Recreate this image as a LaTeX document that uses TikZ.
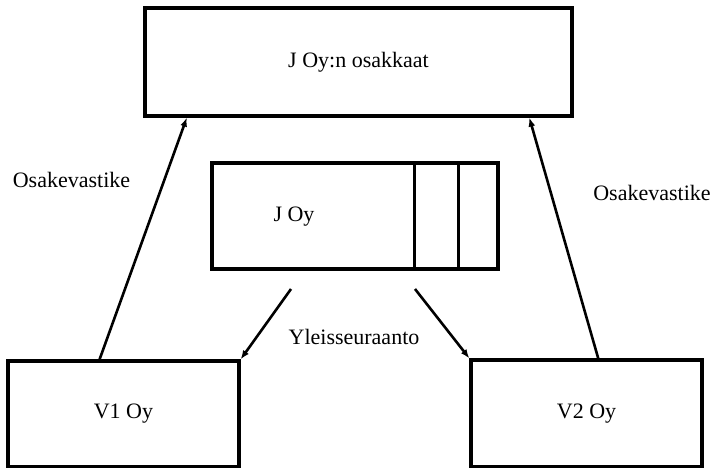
\documentclass[tikz,border=0pt]{standalone}
\usepackage{fontspec}
\setmainfont{Liberation Serif}
\usetikzlibrary{calc,arrows.meta}
\begin{document}
\begin{tikzpicture}[x=1pt,y=-1pt,
  box/.style={draw,line width=3.3pt,rectangle,inner sep=0pt,font=\fontsize{22}{26}\selectfont},
  txt/.style={inner sep=0pt,font=\fontsize{22}{26}\selectfont},
  arr/.style={line width=2.6pt,-{Latex[length=9pt,width=7pt]}},
  divider/.style={line width=3pt}]
\useasboundingbox (0,0) rectangle (713,468);
\node[box,minimum width=427pt,minimum height=108pt] (top) at (358.5,62) {J Oy:n osakkaat};
\node[box,minimum width=286pt,minimum height=106pt] (J) at (355,216) {};
\node[txt] (Jt) at (294,217) {J Oy};
\draw[divider] ($(J.north west)!0.706!(J.north east)$) -- ($(J.south west)!0.706!(J.south east)$);
\draw[divider] ($(J.north west)!0.857!(J.north east)$) -- ($(J.south west)!0.857!(J.south east)$);
\node[box,minimum width=231pt,minimum height=106pt] (V1) at (123.5,414) {V1 Oy};
\node[box,minimum width=231pt,minimum height=107pt] (V2) at (586.5,413.5) {V2 Oy};
\coordinate (ls) at ($(V1.north west)!0.398!(V1.north east)$);
\coordinate (le) at ($(top.south west)!0.101!(top.south east)$);
\coordinate (rs) at ($(V2.north west)!0.55!(V2.north east)$);
\coordinate (re) at ($(top.south west)!0.897!(top.south east)$);
\draw[arr] (ls) -- (le);
\draw[arr] (rs) -- (re);
\coordinate (y1) at (291,289);
\coordinate (y2) at (415,289);
\draw[arr] (y1) -- (V1.north east);
\draw[arr] (y2) -- (V2.north west);
\node[txt] (lo) at (71.5,180) {Osakevastike};
\node[txt] (ro) at (652,193) {Osakevastike};
\node[txt] (yl) at (354,337) {Yleisseuraanto};
\end{tikzpicture}
\end{document}
